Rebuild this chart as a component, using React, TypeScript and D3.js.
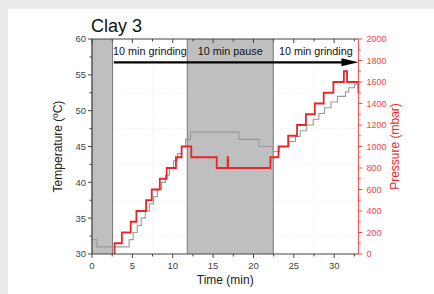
import React from 'react';
import * as d3 from 'd3';

// time (min) vs temperature (°C), grey trace
const tempTime = [0, 0.6, 4.6, 5.1, 5.6, 6.1, 6.6, 7.1, 7.6, 8.1, 8.6, 9.1, 9.6, 10.1, 10.6, 11.1, 11.6, 12.2, 18.2, 20.7, 22.4, 23.2, 24.4, 25.2, 25.8, 26.6, 27.4, 28.1, 28.8, 29.6, 30.4, 31.4, 31.8, 32.5, 33];
const tempValue = [32, 31, 32, 33, 34, 35, 36, 37, 38, 39, 40, 41, 42, 43, 44, 45, 46, 47, 46, 45, 44.3, 45, 45.7, 46.4, 47.2, 48, 48.8, 49.6, 50.4, 51.2, 52, 52.6, 53.2, 53.7, 53.7];

// time (min) vs pressure (mbar), red trace
const pressTime = [2.8, 2.8, 3.7, 4.8, 5.5, 6.7, 7.4, 8.4, 9.25, 10.4, 11.1, 12.3, 15.45, 16.8, 16.85, 22.1, 23.1, 24.3, 25.4, 26.5, 27.6, 28.7, 29.9, 31.2, 31.6, 33];
const pressValue = [0, 100, 200, 300, 400, 500, 600, 700, 800, 900, 1000, 900, 800, 900, 800, 900, 1000, 1100, 1200, 1300, 1400, 1500, 1600, 1700, 1600, 1500];

const timeTicks = [0, 5, 10, 15, 20, 25, 30];
const tempTicks = [30, 35, 40, 45, 50, 55, 60];
const pressTicks = [0, 200, 400, 600, 800, 1000, 1200, 1400, 1600, 1800, 2000];

const shaded = [[0, 2.55], [11.8, 22.45]];
const phaseLabels = ['10 min grinding', '10 min pause', '10 min grinding'];
const phaseBounds = [[2.55, 11.8], [11.8, 22.45], [22.45, 33]];

const FONT = 'Arial, "Liberation Sans", sans-serif';

export default function App() {
  const width = 434, height = 294;
  const x = d3.scaleLinear().domain([0, 33]).range([92, 358.4]);
  const yT = d3.scaleLinear().domain([30, 60]).range([254, 39]);
  const yP = d3.scaleLinear().domain([0, 2000]).range([254, 39]);

  const tempLine = d3.line<number>()
    .x((_, i) => x(tempTime[i]))
    .y(d => yT(d))
    .curve(d3.curveStepAfter);
  const pressLine = d3.line<number>()
    .x((_, i) => x(pressTime[i]))
    .y(d => yP(d))
    .curve(d3.curveStepAfter);

  const minorTime = d3.range(2.5, 33, 5);
  const minorTemp = d3.range(32.5, 60, 5);
  const minorPress = d3.range(100, 2000, 200);
  const gridX = [7.5, 17.5, 27.5];
  const gridY = [32.5, 37.5, 42.5, 47.5, 52.5];

  const [x0, x1] = x.range();
  const [yb, yt] = yT.range();
  const axisCol = '#444';
  const red = '#e8262a';
  const lightRed = '#f04848';
  const arrowY = yT(56.75);

  return (
    <svg width={width} height={height} style={{ position: 'absolute', left: 0, top: 0 }} fontFamily={FONT}>
      <rect width={width} height={height} fill="#ebebeb" />
      <rect x={8} y={9} width={width} height={height} fill="#fff" />

      {gridX.map(t => (
        <line key={'gx' + t} x1={x(t)} x2={x(t)} y1={yt} y2={yb} stroke="#ececec" strokeDasharray="1,2" />
      ))}
      {gridY.map(t => (
        <line key={'gy' + t} x1={x0} x2={x1} y1={yT(t)} y2={yT(t)} stroke="#ececec" strokeDasharray="1,2" />
      ))}

      {shaded.map(([a, b], i) => (
        <g key={'s' + i}>
          <rect x={x(a)} y={yt} width={x(b) - x(a)} height={yb - yt} fill="#bfbfbf" />
          <line x1={x(a)} x2={x(a)} y1={yt} y2={yb} stroke="#777" />
          <line x1={x(b)} x2={x(b)} y1={yt} y2={yb} stroke="#777" />
        </g>
      ))}

      <path d={tempLine(tempValue) || ''} fill="none" stroke="#9a9a9a" strokeWidth={1.1} />
      <path d={pressLine(pressValue) || ''} fill="none" stroke={red} strokeWidth={1.8} />

      {/* phase annotations */}
      {phaseLabels.map((lab, i) => (
        <text key={'p' + i} x={x((phaseBounds[i][0] + phaseBounds[i][1]) / 2)} y={yT(57.8)}
          textAnchor="middle" fontSize={10.8} fill="#111">{lab}</text>
      ))}
      <line x1={x(2.7)} x2={x(31)} y1={arrowY} y2={arrowY} stroke="#000" strokeWidth={2.2} />
      <path d={`M${x(30.9)},${arrowY - 4} L${x(33)},${arrowY} L${x(30.9)},${arrowY + 4} Z`} fill="#000" />

      {/* frame: left, bottom, top */}
      <line x1={x0} x2={x0} y1={yt} y2={yb} stroke={axisCol} />
      <line x1={x0} x2={x1} y1={yb} y2={yb} stroke={axisCol} />
      <line x1={x0} x2={x1} y1={yt} y2={yt} stroke={axisCol} />
      <line x1={x1} x2={x1} y1={yt} y2={yb} stroke={lightRed} />

      {timeTicks.map(t => (
        <g key={'bt' + t}>
          <line x1={x(t)} x2={x(t)} y1={yb} y2={yb + 4} stroke={axisCol} />
          <line x1={x(t)} x2={x(t)} y1={yt} y2={yt + 4} stroke={axisCol} />
          <text x={x(t)} y={yb + 15} textAnchor="middle" fontSize={9.5} fill="#444">{t}</text>
        </g>
      ))}
      {minorTime.map(t => (
        <g key={'mt' + t}>
          <line x1={x(t)} x2={x(t)} y1={yb} y2={yb + 2.5} stroke={axisCol} />
          <line x1={x(t)} x2={x(t)} y1={yt} y2={yt + 2.5} stroke={axisCol} />
        </g>
      ))}

      {tempTicks.map(t => (
        <g key={'lt' + t}>
          <line x1={x0 - 4} x2={x0} y1={yT(t)} y2={yT(t)} stroke={axisCol} />
          <text x={x0 - 6} y={yT(t) + 3.4} textAnchor="end" fontSize={9.5} fill="#444">{t}</text>
        </g>
      ))}
      {minorTemp.map(t => (
        <line key={'ml' + t} x1={x0 - 2.5} x2={x0} y1={yT(t)} y2={yT(t)} stroke={axisCol} />
      ))}

      {pressTicks.map(t => (
        <g key={'rt' + t}>
          <line x1={x1} x2={x1 + 4} y1={yP(t)} y2={yP(t)} stroke={lightRed} />
          <text x={x1 + 8} y={yP(t) + 3.3} fontSize={9} fill={lightRed}>{t}</text>
        </g>
      ))}
      {minorPress.map(t => (
        <line key={'mr' + t} x1={x1} x2={x1 + 2.5} y1={yP(t)} y2={yP(t)} stroke={lightRed} />
      ))}

      <text x={91} y={32} fontSize={18} fill="#111">Clay 3</text>
      <text x={(x0 + x1) / 2} y={284} textAnchor="middle" fontSize={12} fill="#222">Time (min)</text>
      <text transform={`translate(62,${(yt + yb) / 2}) rotate(-90)`} textAnchor="middle" fontSize={12} fill="#222">Temperature (ºC)</text>
      <text transform={`translate(399,${(yt + yb) / 2}) rotate(-90)`} textAnchor="middle" fontSize={12} fill={red}>Pressure (mbar)</text>
    </svg>
  );
}
